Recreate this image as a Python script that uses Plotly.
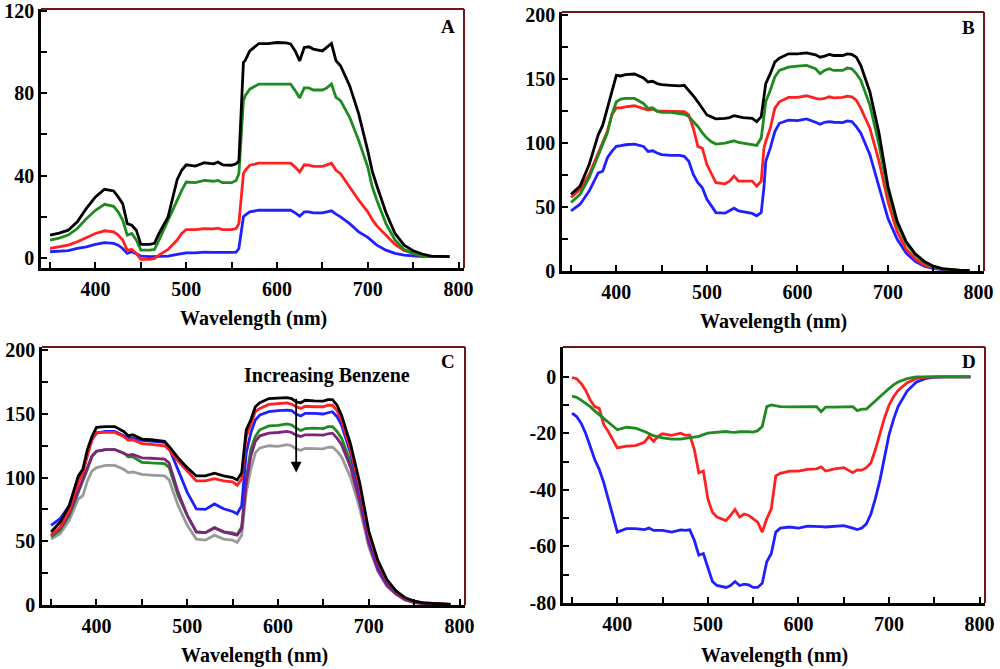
import plotly.graph_objects as go

# ---------------- Panel A ----------------
wlA = [350,360,370,380,390,400,410,420,425,430,435,440,445,450,460,465,470,480,490,495,
       500,510,520,530,535,540,550,555,558,563,565,570,580,590,600,610,615,620,625,630,
       635,640,650,655,660,665,670,680,690,700,705,710,720,730,740,750,760,770,780,790]
A_black = [11,12,13.4,17.5,24,29.6,33.3,32.5,29.6,26.3,16.6,15.8,13.4,6.5,6.5,7,11.8,19.9,38,42.5,
           45.2,44.6,46.2,45.7,46.5,45.2,45,45.7,47,95,96,100.6,104.2,104.2,104.7,104.5,104,100.6,95.8,102.3,
           102.6,101.5,100.6,102.3,104.2,95.8,93.4,83.7,70,52,42,35,22,11.8,6.1,3.4,1.8,0.8,0.5,0.5]
A_green = [8.6,9.5,11,14.2,19,23.1,26,25,22.3,18.3,11,11.8,8.6,3.7,3.7,4,8.6,18.3,28,32.8,
           36.8,36.5,37.6,37.2,37.6,36.5,36.5,37.6,40.9,76.4,78.8,82,84.5,84.5,84.5,84.5,84.5,81.3,77.7,82.6,
           82.6,81.6,81.6,82.6,84.5,78,76.4,68.3,57,44.1,34.4,28,16.6,8.6,4,2.1,1,0.5,0.5,0.5]
A_red = [4.5,5.2,6.1,7.8,9.9,11.8,13.1,12.6,11,8.6,3.7,4,2.1,-0.8,-0.8,-0.3,1.3,4,8.6,11.8,
         13.7,13.7,14.2,14,14.4,13.7,13.7,14.2,16.6,40.9,42.5,45,46,46,46,46,46,44.1,41.7,45.2,
         45,44.4,44.4,45.2,46,42.5,40.9,34.4,28,22.3,18.5,15.5,11,6.5,3.5,2.1,0.8,0.5,0.5,0.5]
A_blue = [2.9,3.1,3.4,4.5,5.3,6.5,7.3,7,6.1,4.5,2.1,2.9,1.8,0.8,0.5,0.5,0.8,0.8,1.6,2,
          2.4,2.4,2.7,2.6,2.7,2.6,2.6,2.7,4.5,19.9,20.7,22.3,23.1,23.1,23.1,23.1,23.1,21.8,20.2,22.3,
          22.3,21.8,21.8,22.3,22.8,21.2,19.9,16.6,12.6,9.9,7.8,6.1,3.7,2.1,1.3,0.8,0.5,0.5,0.5,0.5]

# ---------------- Panel B ----------------
wlB = [350,360,370,375,380,385,390,395,400,405,410,420,430,435,440,445,450,460,470,475,
       480,485,490,495,500,505,510,520,525,530,535,540,550,555,560,563,565,570,575,580,
       590,600,610,620,625,630,635,640,650,655,660,665,670,680,690,700,710,720,730,740,
       750,760,770,780,790]
B_black = [60,66.4,83.2,95,106.5,114,127,141,153,152.5,153.5,154,151,147.8,148.3,146.5,145.7,145.2,144.7,145.2,
           141.3,137,132.3,127,122,120.5,118.9,119.4,120,121.4,120.5,120,119.4,116.8,120.7,135,146.5,154.3,163.3,166.4,
           169.8,169.8,170.5,169,167.2,168,169.3,168.5,168.5,169.8,169.3,167.2,160.7,140,108,66,39,23,13.5,7.5,
           3.8,1.9,1,0.5,0.5]
B_green = [53.5,60,72.9,82,91,98.7,107.8,122,132.3,134.4,134.9,134.9,131,127.1,127.6,125,124,124,123.3,122.5,
           120.7,117,113,108,103.9,101,99.2,100,100.8,101.8,100.5,100,98.7,98.2,103.9,120,132.3,141.3,151.7,156.8,
           159.4,160.2,160.7,158.1,154.3,156.8,158.1,156.8,156.8,158.7,158.1,154.3,149.1,129.7,99,62,37,21.5,12.5,6.8,
           3.4,1.7,0.9,0.5,0.4]
B_red = [57.4,63.8,75.5,84,92.2,101.3,109,122,127.6,127.6,128.4,129.2,127.1,125.8,126.6,125,125,125,125,124.5,
         122,111.6,97.4,96,83.2,75.5,69,68.2,70.3,74.2,70.3,70.3,70.3,66.4,70.3,96,101.3,111.6,127.1,132.3,
         135.7,135.7,137,134.9,134.4,134.9,136.2,135.4,135.7,136.7,136.2,133.6,127.1,111.6,86,54,31,17,9.5,4.8,
         2.7,1.5,0.8,0.5,0.4]
B_blue = [47,52.2,62.5,70.3,76.7,78,88.4,93.5,97.4,98,98.7,99.2,97.4,93.5,94,92.2,91,90.4,90.4,89.7,
          85.8,75.5,69,65.1,56,50.9,45.7,45.2,47,49.1,47,46.5,45,43.2,45.7,65.1,85.8,96,109,115.5,
          118,117.6,118.9,116.3,114.7,116.3,116.8,116.3,116,117.3,116.8,112.9,107.8,91,66,41,25,14,7.5,3.8,
          2,1,0.6,0.4,0.3]

# ---------------- Panel C ----------------
wlC = [350,360,370,380,385,390,395,400,410,420,430,435,440,450,460,470,475,480,490,500,
       510,520,530,540,550,555,560,565,570,575,580,590,600,610,615,620,625,630,640,650,
       655,660,665,670,680,690,700,710,720,730,740,750,760,770,780,790]
C_black = [57.4,65.1,78,101.3,106.5,122,132.3,139.5,140,140,136.2,132.8,133.6,130.2,129.7,129.2,128.4,124.5,115.5,107.8,
           101.3,101.3,103.4,101.3,100,98.2,103.9,137.5,145.2,155.6,158.7,162,162.5,162.8,162,159.4,158.7,160.7,160.2,160,
           161.2,161.2,156.8,149,126,96,58,35,20,11,5.7,3.1,1.6,1,0.8,0.5]
C_red = [54.8,61.2,74.2,96,103.9,116.8,129.7,135.5,135.5,135.5,132.3,129.2,129.7,126.6,126.1,125.6,125,122,112.9,105.2,
         97.4,97.4,99.2,97.4,96.6,94,98.7,132.3,141.3,151.7,154.3,157.4,158.1,158.7,157.6,155.6,154.3,156,155.6,155.6,
         156.8,156.8,152.5,145.2,122,92,55,33,19,10.5,5.2,2.8,1.6,1,0.8,0.5]
C_blue = [62.5,67.7,78,98.7,105.2,119.4,129.7,134.9,136.2,136.2,132.8,131,131,129.2,128.7,128.2,127.6,123.3,106.5,88.4,
          75.5,75,79.3,75.5,73.4,71.6,78,119.4,134.9,145.2,149.1,151.7,152.5,153,152.5,149.9,148.3,150.4,150.4,149.9,
          150.9,151.7,147.8,141.3,119,89,52,31,18,10.3,4.9,2.6,1.6,1,0.8,0.5]
C_green = [53.5,58.7,70.3,88.4,96,106.5,116.8,120.7,122,122,119.4,116.3,116.3,112,111.5,111.3,111,108,85.8,70.3,
           57.4,56.8,60.5,57.4,56.6,55.3,61.2,98.7,122,132.3,137.5,140.6,141,142.1,141.3,138.8,137,138.5,138.8,138.5,
           140,140,136.2,131,112,84,49.6,29,16.5,9.6,4.4,2.3,1.3,0.8,0.5,0.5]
C_purple = [54.8,60,71.6,89.7,97.4,107.8,116.8,120.7,122,122,119.4,117.6,118.1,115.5,115.2,115,114.5,111.6,88.4,70.3,
            57.4,56.8,60.7,57.4,56,54.8,60,96,116.8,128.4,132.8,134.9,135.4,136.2,135.4,133.3,132.3,133.6,133.6,133.3,
            134.4,134.9,131,125.8,108,81,48.3,27.6,15.5,8.8,4.1,2.1,1,0.8,0.5,0.5]
C_gray = [51.7,56,66.4,83.2,85.8,97.4,105,107.8,109.6,109.6,106.5,103.9,104.4,102.6,102,101.8,101.3,98.2,78,62.5,
          51.7,50.9,54.8,51.7,50.9,49.1,54.8,88.4,106.5,119.4,123.3,125,124.5,125.8,125,122.5,121.4,123,123,122.5,
          123.8,124,120.7,116.3,100,76,45.7,26.4,14.7,8.3,3.9,1.8,1,0.5,0.5,0.5]

# ---------------- Panel D ----------------
wlD = [350,355,360,365,370,375,380,385,390,395,400,410,420,430,435,440,445,450,460,470,
       475,480,485,490,495,500,505,510,520,525,530,535,540,545,550,555,560,565,570,575,
       580,590,600,610,620,625,630,640,650,660,665,670,675,680,685,690,695,700,705,710,
       720,730,740,750,760,770,780,790]
D_red = [-0.2,-0.6,-2.3,-4.7,-8.2,-10.5,-11.1,-16.9,-19.3,-22.2,-25.1,-24.5,-24.3,-23.1,-21,-22.8,-21,-20.1,-20.7,-19.9,
         -20.6,-20.6,-25.7,-33.9,-33.3,-43.2,-47.9,-49.6,-50.8,-49,-46.9,-49.6,-48.5,-49,-50.2,-51.4,-54.9,-50.2,-46.7,-35,
         -34.1,-33.3,-33.3,-32.7,-32.5,-31.8,-33.3,-32.5,-32.1,-33.9,-32.9,-33,-32.1,-30.4,-25.7,-20,-14.5,-10,-7,-4.8,
         -2,-0.6,-0.1,0,0,0,0,0]
D_blue = [-12.8,-14,-16.4,-19.9,-24.5,-29.2,-32.7,-37.4,-43.2,-49,-54.9,-53.7,-53.7,-54,-53.5,-54.3,-54.3,-54.3,-54.9,-54.1,
          -54.3,-54.1,-57.8,-63.1,-62.5,-67.7,-72.4,-73.8,-74.5,-73.8,-72.4,-73.8,-73.3,-73.6,-74.5,-74.5,-73,-65.4,-62.5,-54.9,
          -53.5,-53.1,-53.5,-52.8,-52.8,-53,-53.1,-52.8,-52.6,-53.5,-54,-53.5,-52,-48.5,-43,-36.5,-28,-20.5,-15,-10.5,
          -5,-1.9,-0.6,-0.1,0,0,0,0]
D_green = [-6.8,-7.2,-8.2,-9.3,-10.5,-12,-13.4,-14.8,-16.1,-17.5,-18.7,-17.8,-18.1,-19.3,-20,-20.8,-21.2,-21.6,-22,-22,
           -21.7,-21.4,-21.2,-21,-20.4,-19.9,-19.7,-19.6,-19.3,-19.5,-19.6,-19.4,-19.3,-19.4,-19.5,-19,-17.5,-10.5,-9.9,-10.3,
           -10.5,-10.6,-10.5,-10.5,-10.5,-12.3,-10.7,-10.7,-10.5,-10.5,-11.9,-11.4,-11.4,-9.9,-8.5,-7,-5.5,-4.1,-2.8,-1.8,
           -0.6,0,0,0,0,0,0,0]

BLACK, GREEN, RED, BLUE, PURPLE, GRAY = "#000000", "#1f8a1f", "#ff2020", "#2020ff", "#7f237f", "#9a9a9a"
FRAME = "#6e1818"
FONT = dict(family="Liberation Serif", size=20, color="black", weight="bold")

fig = go.Figure()

def add(x, y, color, ax):
    fig.add_trace(go.Scatter(x=x, y=y, mode="lines", line=dict(color=color, width=2.8),
                             xaxis="x" + ax, yaxis="y" + ax, showlegend=False, hoverinfo="skip"))

for y, c in [(A_blue, BLUE), (A_red, RED), (A_green, GREEN), (A_black, BLACK)]:
    add(wlA, y, c, "")
for y, c in [(B_blue, BLUE), (B_red, RED), (B_green, GREEN), (B_black, BLACK)]:
    add(wlB, y, c, "2")
for y, c in [(C_gray, GRAY), (C_green, GREEN), (C_purple, PURPLE), (C_blue, BLUE), (C_red, RED), (C_black, BLACK)]:
    add(wlC, y, c, "3")
for y, c in [(D_blue, BLUE), (D_red, RED), (D_green, GREEN)]:
    add(wlD, y, c, "4")

# figure-pixel geometry of the four plot areas (left, right, top, bottom)
W, H = 1000, 669
boxes = {
    "": (41, 464, 9, 268),
    "2": (562, 984, 12, 271),
    "3": (42, 465, 347, 605),
    "4": (563, 985, 347, 603),
}
yinfo = {
    "": dict(range=[-5, 121], tickvals=[0, 40, 80, 120], ticktext=["0", "40", "80", "120"], minor=[20, 60, 100]),
    "2": dict(range=[0, 202.5], tickvals=[0, 50, 100, 150, 200], ticktext=["0", "50", "100", "150", "200"], minor=[25, 75, 125, 175]),
    "3": dict(range=[0, 202.5], tickvals=[0, 50, 100, 150, 200], ticktext=["0", "50", "100", "150", "200"], minor=[25, 75, 125, 175]),
    "4": dict(range=[-80, 10.6], tickvals=[-80, -60, -40, -20, 0], ticktext=["-80", "-60", "-40", "-20", "0"], minor=[-70, -50, -30, -10]),
}

layout = dict(width=W, height=H, margin=dict(l=0, r=0, t=0, b=0, autoexpand=False),
              paper_bgcolor="white", plot_bgcolor="white", font=FONT, shapes=[], annotations=[])

for k, (l, r, t, b) in boxes.items():
    xd = [l / W, r / W]
    yd = [(H - b) / H, (H - t) / H]
    xname = "xaxis" + k
    yname = "yaxis" + k
    layout[xname] = dict(domain=xd, anchor="y" + k, range=[340, 806], showgrid=False, zeroline=False,
                         automargin=False, showline=True, linecolor="black", linewidth=2.5,
                         tickvals=[400, 500, 600, 700, 800], ticktext=["400", "500", "600", "700", "800"],
                         ticks="inside", ticklen=6, tickwidth=1.8, tickcolor="black",
                         minor=dict(tickvals=[350, 450, 550, 650, 750], ticks="inside", ticklen=6, tickwidth=1.8, tickcolor="black"),
                         tickfont=FONT, ticklabelstandoff=1)
    yi = yinfo[k]
    layout[yname] = dict(domain=yd, anchor="x" + k, range=yi["range"], showgrid=False, zeroline=False,
                         automargin=False, showline=True, linecolor="black", linewidth=2.5,
                         tickvals=yi["tickvals"], ticktext=yi["ticktext"],
                         ticks="inside", ticklen=6, tickwidth=1.8, tickcolor="black",
                         minor=dict(tickvals=yi["minor"], ticks="inside", ticklen=6, tickwidth=1.8, tickcolor="black"),
                         tickfont=FONT, ticklabelstandoff=0)
    xr = "x" + k + " domain" if k else "x domain"
    yr = "y" + k + " domain" if k else "y domain"
    layout["shapes"].append(dict(type="line", xref=xr, yref=yr, x0=0, x1=1, y0=1, y1=1, line=dict(color=FRAME, width=2)))
    layout["shapes"].append(dict(type="line", xref=xr, yref=yr, x0=1, x1=1, y0=0, y1=1, line=dict(color=FRAME, width=2)))

def ann(text, x, y, xanchor="center", size=20):
    layout["annotations"].append(dict(text=text, x=x / W, y=(H - y) / H, xref="paper", yref="paper",
                                      xanchor=xanchor, yanchor="middle", showarrow=False,
                                      font=dict(family="Liberation Serif", size=size, color="black", weight="bold")))

ann("Wavelength (nm)", 253, 318)
ann("Wavelength (nm)", 773, 321)
ann("Wavelength (nm)", 254, 655)
ann("Wavelength (nm)", 774, 655)
ann("A", 457, 26, "right", 19)
ann("B", 977, 27, "right", 19)
ann("C", 457, 362, "right", 19)
ann("D", 978, 361, "right", 19)
ann("Increasing Benzene", 327, 375)

layout["annotations"].append(dict(x=620, y=104, ax=620, ay=163, xref="x3", yref="y3", axref="x3", ayref="y3",
                                  showarrow=True, arrowhead=2, arrowsize=1.2, arrowwidth=1.8, arrowcolor="black", text=""))

fig.update_layout(**layout)
fig.write_html("out.html", config={"displayModeBar": False},
               post_script="document.body.style.margin='0';")
